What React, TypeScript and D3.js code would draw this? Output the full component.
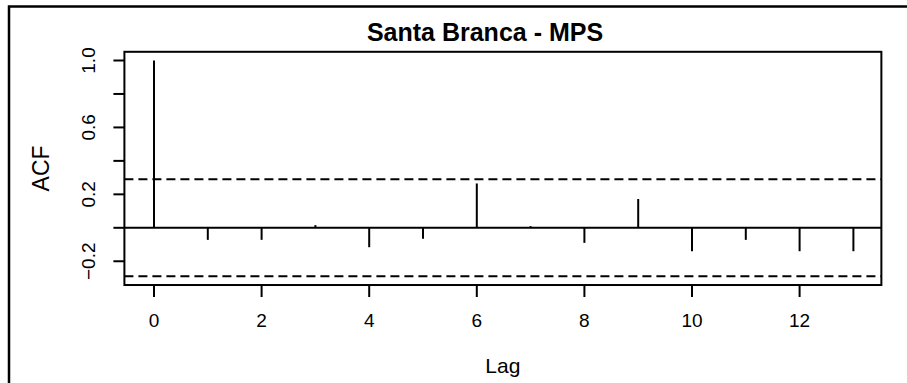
import React from "react";
import * as d3 from "d3";

const lags = [0, 1, 2, 3, 4, 5, 6, 7, 8, 9, 10, 11, 12, 13];
const acfValues = [1.0, -0.072, -0.072, 0.016, -0.116, -0.066, 0.265, 0.01, -0.09, 0.172, -0.14, -0.072, -0.14, -0.14];
const ciBound = 0.29;
const xTicks = [0, 2, 4, 6, 8, 10, 12];
const yTicks = [-0.2, 0, 0.2, 0.4, 0.6, 0.8, 1.0];
const yTickLabels = [-0.2, 0.2, 0.6, 1.0];
const title = "Santa Branca - MPS";
const xLabel = "Lag";
const yLabel = "ACF";

const W = 907;
const H = 383;
const FONT = "'Liberation Sans', Arial, Helvetica, sans-serif";

export default function App() {
  const x = d3.scaleLinear().domain([0, 13]).range([154, 853.4]);
  const y = d3.scaleLinear().domain([0, 1]).range([227.8, 60.5]);
  const x0 = x(-0.55);
  const x1 = x(13.52);
  const yTop = y(1.052);
  const yBot = y(-0.342);
  const lw = 2;
  const fmt = (v: number) => (v === 0 ? "0" : d3.format(".1f")(v));

  return (
    <svg
      width={W}
      height={H}
      style={{ position: "absolute", left: 0, top: 0, background: "#fff" }}
      fontFamily={FONT}
    >
      <rect x={0} y={0} width={W} height={H} fill="#fff" />
      {/* outer frame */}
      <path d={`M9,${H + 5}V6.5H${W + 5}`} fill="none" stroke="#000" strokeWidth={2.5} />
      {/* title */}
      <text x={485} y={41} textAnchor="middle" fontSize={25} fontWeight="bold" fill="#000">
        {title}
      </text>
      {/* box */}
      <rect x={x0} y={yTop} width={x1 - x0} height={yBot - yTop} fill="none" stroke="#000" strokeWidth={lw} />
      {/* zero line */}
      <line x1={x0} x2={x1} y1={y(0)} y2={y(0)} stroke="#000" strokeWidth={lw} />
      {/* CI lines */}
      {[ciBound, -ciBound].map((c, i) => (
        <line key={i} x1={x0} x2={x1} y1={y(c)} y2={y(c)} stroke="#000" strokeWidth={lw} strokeDasharray="9 5" />
      ))}
      {/* spikes */}
      {lags.map((l, i) => (
        <line key={l} x1={x(l)} x2={x(l)} y1={y(0)} y2={y(acfValues[i])} stroke="#000" strokeWidth={lw} />
      ))}
      {/* x axis */}
      {xTicks.map((t) => (
        <g key={t}>
          <line x1={x(t)} x2={x(t)} y1={yBot} y2={yBot + 12} stroke="#000" strokeWidth={lw} />
          <text x={x(t)} y={327} textAnchor="middle" fontSize={19} fill="#000">
            {t}
          </text>
        </g>
      ))}
      {/* y axis */}
      {yTicks.map((t) => (
        <line key={t} x1={x0 - 11} x2={x0} y1={y(t)} y2={y(t)} stroke="#000" strokeWidth={lw} />
      ))}
      {yTickLabels.map((t) => (
        <text
          key={t}
          transform={`translate(95,${y(t)}) rotate(-90)`}
          textAnchor="middle"
          fontSize={19}
          fill="#000"
        >
          {fmt(t)}
        </text>
      ))}
      {/* axis labels */}
      <text x={(x0 + x1) / 2} y={373} textAnchor="middle" fontSize={21} fill="#000">
        {xLabel}
      </text>
      <text
        transform={`translate(49,${(yTop + yBot) / 2}) rotate(-90)`}
        textAnchor="middle"
        fontSize={23}
        fill="#000"
      >
        {yLabel}
      </text>
    </svg>
  );
}
